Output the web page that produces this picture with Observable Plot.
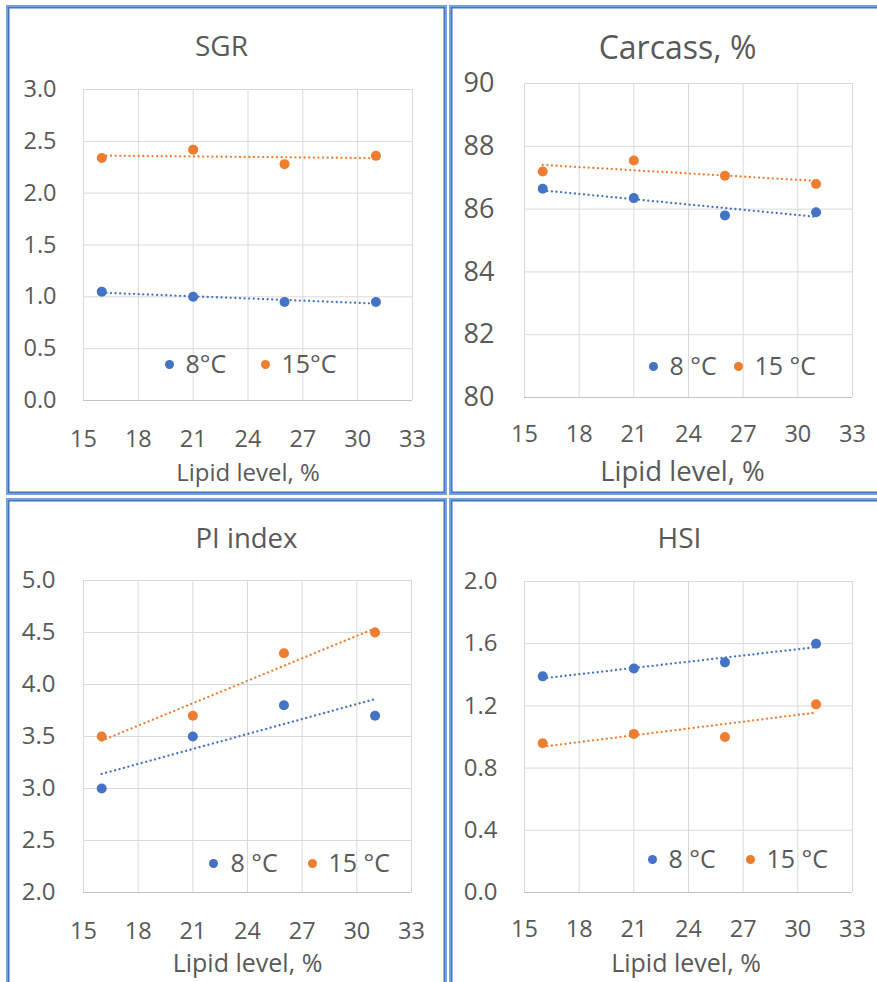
<!DOCTYPE html>
<html><head><meta charset="utf-8">
<script src="https://cdn.jsdelivr.net/npm/d3@7"></script>
<script src="https://cdn.jsdelivr.net/npm/@observablehq/plot@0.6"></script>
<style>
body{margin:0;background:#fff;overflow:hidden;}
#root{position:relative;width:877px;height:982px;overflow:hidden;background:#fff;}
.panel{position:absolute;width:441px;height:490px;}
.panel svg{position:absolute;left:0;top:0;}
.frame{position:absolute;left:0;top:0;width:441px;height:490px;box-sizing:border-box;border:2px solid #72a2dc;box-shadow:inset 0 0 0 1.5px #4472c4;pointer-events:none;}
</style>
</head><body><div id="root"></div>
<script>
// ---- data ----
const lipid = [16, 21, 26, 31];
const xTicks = [15, 18, 21, 24, 27, 30, 33];
const seriesSGR = ["8°C", "15°C"];
const seriesOther = ["8 °C", "15 °C"];
const colors = ["#4472C4", "#ED7D31"];

const sgr8 = [1.05, 1.00, 0.95, 0.95];
const sgr15 = [2.34, 2.42, 2.28, 2.36];
const sgrTicks = [0, 0.5, 1, 1.5, 2, 2.5, 3];

const carcass8 = [86.65, 86.35, 85.8, 85.9];
const carcass15 = [87.2, 87.55, 87.06, 86.8];
const carcassTicks = [80, 82, 84, 86, 88, 90];

const pi8 = [3.0, 3.5, 3.8, 3.7];
const pi15 = [3.5, 3.7, 4.3, 4.5];
const piTicks = [2, 2.5, 3, 3.5, 4, 4.5, 5];

const hsi8 = [1.39, 1.44, 1.48, 1.60];
const hsi15 = [0.96, 1.02, 1.00, 1.21];
const hsiTicks = [0, 0.4, 0.8, 1.2, 1.6, 2];

const xLabel = "Lipid level, %";
const FONT = "'Open Sans', 'Noto Sans', sans-serif";
const TEXT = "#595959";

// ---- layout per panel ----
const panels = [
  {left: 6, top: 5, title: "SGR", names: seriesSGR, s: [sgr8, sgr15], ticks: sgrTicks, fmt: d => d.toFixed(1),
   m: [84, 35, 95, 77], yPad: 27, xPad: 30, tickFont: 23.5, yTickFont: 23.5, titleFont: 28, labelFont: 24, legendFont: 25,
   titlePos: [215, 50], labelPos: [241.5, 475.5], legend: [[163, 359, 179], [259, 359, 275]]},
  {left: 449, top: 5, title: "Carcass, %", names: seriesOther, s: [carcass8, carcass15], ticks: carcassTicks, fmt: d => String(d),
   m: [78, 38, 98, 75], yPad: 30, xPad: 28, tickFont: 23.5, yTickFont: 27, titleFont: 32, labelFont: 27.5, legendFont: 25,
   titlePos: [228, 53], labelPos: [233, 475], legend: [[204, 361, 220], [289, 361, 305]]},
  {left: 6, top: 498, title: "PI index", names: seriesOther, s: [pi8, pi15], ticks: piTicks, fmt: d => d.toFixed(1),
   m: [82, 36, 96, 77], yPad: 28, xPad: 30, tickFont: 23.5, yTickFont: 24, titleFont: 27.5, labelFont: 25, legendFont: 25,
   titlePos: [240, 49], labelPos: [241, 473.5], legend: [[207, 365, 224], [306, 365, 322]]},
  {left: 449, top: 498, title: "HSI", names: seriesOther, s: [hsi8, hsi15], ticks: hsiTicks, fmt: d => d.toFixed(1),
   m: [83, 38, 96, 75], yPad: 27, xPad: 28, tickFont: 23.5, yTickFont: 24, titleFont: 28, labelFont: 25, legendFont: 25,
   titlePos: [230, 49], labelPos: [236.5, 473.5], legend: [[203, 361, 219], [301, 361, 317]]}
];

const root = document.getElementById("root");

for (const p of panels) {
  const [mt, mr, mb, ml] = p.m;
  const rows = [];
  p.s.forEach((vals, k) => vals.forEach((v, i) => rows.push({x: lipid[i], y: v, series: p.names[k]})));
  const yDomain = [p.ticks[0], p.ticks[p.ticks.length - 1]];
  const rel = (x, y) => ({dx: x - ml, dy: y - mt});

  const legendMarks = [];
  p.names.forEach((name, k) => {
    const [dxc, dyc, tx] = p.legend[k];
    legendMarks.push(Plot.dot([name], {frameAnchor: "top-left", ...rel(dxc, dyc), r: 4.5, fill: colors[k], stroke: "none"}));
    legendMarks.push(Plot.text([name], {frameAnchor: "top-left", ...rel(tx, dyc), text: d => d, textAnchor: "start", lineAnchor: "middle", fontSize: p.legendFont, fill: TEXT}));
  });

  const chart = Plot.plot({
    width: 441, height: 490,
    marginTop: mt, marginRight: mr, marginBottom: mb, marginLeft: ml,
    style: {fontFamily: FONT, color: TEXT, background: "transparent", overflow: "visible"},
    x: {domain: [15, 33]},
    y: {domain: yDomain},
    color: {domain: p.names, range: colors},
    marks: [
      Plot.gridX(xTicks, {stroke: "#d9d9d9", strokeOpacity: 1, strokeWidth: 1}),
      Plot.gridY(p.ticks, {stroke: "#d9d9d9", strokeOpacity: 1, strokeWidth: 1}),
      Plot.ruleY([yDomain[0]], {stroke: "#c4c4c4", strokeWidth: 1.2}),
      Plot.axisX(xTicks, {tickSize: 0, tickPadding: p.xPad, fontSize: p.tickFont, label: null, fill: TEXT}),
      Plot.axisY(p.ticks, {tickSize: 0, tickPadding: p.yPad, fontSize: p.yTickFont, tickFormat: p.fmt, label: null, fill: TEXT}),
      Plot.linearRegressionY(rows, {x: "x", y: "y", stroke: "series", ci: 0, strokeWidth: 2.3, strokeLinecap: "round", strokeDasharray: "0.01,4.6"}),
      Plot.dot(rows, {x: "x", y: "y", fill: "series", r: 5, stroke: "none"}),
      Plot.text([p.title], {frameAnchor: "top-left", ...rel(p.titlePos[0], p.titlePos[1]), text: d => d, textAnchor: "middle", lineAnchor: "bottom", fontSize: p.titleFont, fill: TEXT}),
      Plot.text([xLabel], {frameAnchor: "top-left", ...rel(p.labelPos[0], p.labelPos[1]), text: d => d, textAnchor: "middle", lineAnchor: "bottom", fontSize: p.labelFont, fill: TEXT}),
      ...legendMarks
    ]
  });

  const div = document.createElement("div");
  div.className = "panel";
  div.style.left = p.left + "px";
  div.style.top = p.top + "px";
  div.appendChild(chart);
  const frame = document.createElement("div");
  frame.className = "frame";
  div.appendChild(frame);
  root.appendChild(div);
}
</script>
</body></html>
